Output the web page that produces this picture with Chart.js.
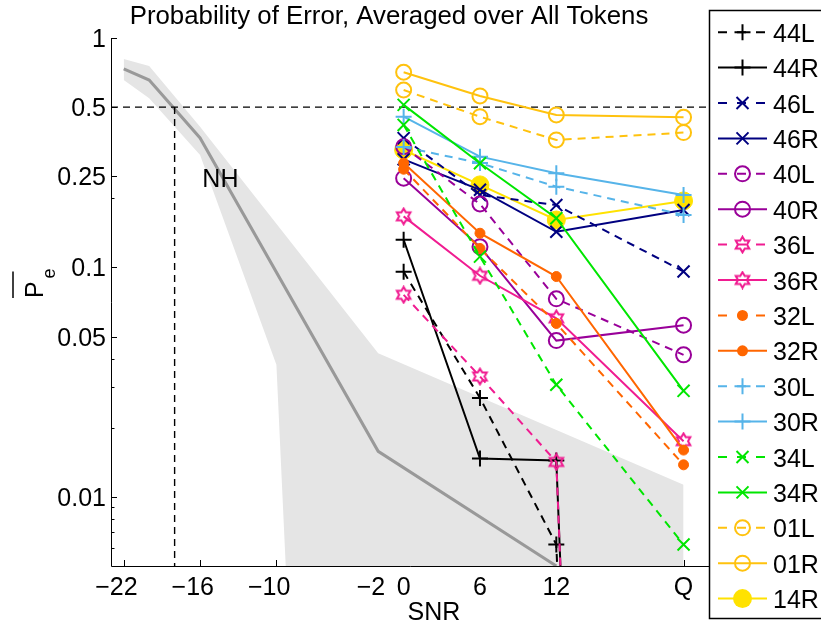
<!DOCTYPE html>
<html>
<head>
<meta charset="utf-8">
<title>Probability of Error</title>
<script src="https://cdn.jsdelivr.net/npm/chart.js@4.4.1/dist/chart.umd.min.js"></script>
<style>
  html, body { margin: 0; padding: 0; background: #fff; }
  canvas { display: block; }
</style>
</head>
<body>
<canvas id="pe" width="821" height="626"></canvas>
<script>
// ------------- Data -------------
const snrPts = [0, 6, 12, 22];               // last column is the quiet condition
const xTicks = [-22, -16, -10, -2, 0, 6, 12, 22];
const xTickText = ['−22', '−16', '−10', '−2', '0', '6', '12', 'Q'];
const yTicks = [1, 0.5, 0.25, 0.1, 0.05, 0.01];
const yTickText = ['1', '0.5', '0.25', '0.1', '0.05', '0.01'];
const yMinorTicks = [0.2, 0.04, 0.03, 0.02, 0.009, 0.008, 0.007, 0.006];

// normal hearing group: mean curve and its spread
const nhSnr    = [-22, -20, -16, -2, 12];
const nhMean   = [0.733, 0.656, 0.367, 0.0158, 0.005];
const nhBandSnr = [-22, -20, -16, -10, -2, 22];
const nhBandHi  = [0.81, 0.755, 0.41, 0.155, 0.0423, 0.0113];
const nhBandLo  = [0.656, 0.546, 0.309, 0.0377, 1e-11, 1e-11];
const chanceLevel = 0.5;
const nhThreshold = -18;

// listeners, per ear (0, 6, 12 dB SNR, quiet)
const pe44L = [0.0957, 0.027, 0.0062, 1e-16];
const pe44R = [0.132, 0.0147, 0.0144, 1e-16];
const pe46L = [0.366, 0.207, 0.187, 0.096];
const pe46R = [0.296, 0.218, 0.143, 0.178];
const pe40L = [0.336, 0.189, 0.073, 0.0416];
const pe40R = [0.245, 0.123, 0.048, 0.056];
const pe36L = [0.076, 0.0335, 0.0142, 1e-16];
const pe36R = [0.167, 0.092, 0.060, 0.0175];
const pe32L = [0.268, 0.121, 0.057, 0.0138];
const pe32R = [0.285, 0.141, 0.0913, 0.016];
const pe30L = [0.335, 0.285, 0.225, 0.1695];
const pe30R = [0.454, 0.304, 0.2575, 0.207];
const pe34L = [0.418, 0.1115, 0.0308, 0.0062];
const pe34R = [0.511, 0.2846, 0.164, 0.029];
const pe01L = [0.5935, 0.454, 0.3595, 0.387];
const pe01R = [0.709, 0.559, 0.462, 0.451];
const pe14R = [0.325, 0.229, 0.161, 0.195];

const seriesNames = ['44L', '44R', '46L', '46R', '40L', '40R', '36L', '36R',
                     '32L', '32R', '30L', '30R', '34L', '34R', '01L', '01R', '14R'];
const seriesValues = [pe44L, pe44R, pe46L, pe46R, pe40L, pe40R, pe36L, pe36R,
                      pe32L, pe32R, pe30L, pe30R, pe34L, pe34R, pe01L, pe01R, pe14R];

// ------------- Styles -------------
const FONT = '"Liberation Sans", Arial, Helvetica, sans-serif';
const look = {
  '44': { color: '#000000', marker: 'plus' },
  '46': { color: '#000080', marker: 'x' },
  '40': { color: '#990099', marker: 'ring' },
  '36': { color: '#f01c91', marker: 'hex' },
  '32': { color: '#ff6600', marker: 'dot' },
  '30': { color: '#56b4e9', marker: 'plus' },
  '34': { color: '#00e600', marker: 'x' },
  '01': { color: '#ffc20e', marker: 'ring' },
  '14': { color: '#ffe200', marker: 'bigdot' }
};

function hexagram(color) {
  const cv = document.createElement('canvas');
  cv.width = cv.height = 19;
  const c = cv.getContext('2d');
  const R = 7.8, r = R / Math.sqrt(3);
  c.beginPath();
  for (let k = 0; k < 12; k++) {
    const a = -Math.PI / 2 + k * Math.PI / 6;
    const d = k % 2 ? r : R;
    const px = 9.5 + d * Math.cos(a), py = 9.5 + d * Math.sin(a);
    if (k) c.lineTo(px, py); else c.moveTo(px, py);
  }
  c.closePath();
  c.strokeStyle = color;
  c.lineWidth = 2;
  c.stroke();
  return cv;
}
const hexImg = hexagram(look['36'].color);

function pointOpts(kind, color) {
  switch (kind) {
    case 'plus':   return { pointStyle: 'cross', pointRadius: 8, pointBorderWidth: 2, pointBorderColor: color };
    case 'x':      return { pointStyle: 'crossRot', pointRadius: 8.5, pointBorderWidth: 2, pointBorderColor: color };
    case 'ring':   return { pointStyle: 'circle', pointRadius: 7.5, pointBorderWidth: 2, pointBorderColor: color, pointBackgroundColor: 'rgba(0,0,0,0)' };
    case 'dot':    return { pointStyle: 'circle', pointRadius: 5, pointBorderWidth: 1, pointBorderColor: color, pointBackgroundColor: color };
    case 'bigdot': return { pointStyle: 'circle', pointRadius: 9, pointBorderWidth: 1, pointBorderColor: color, pointBackgroundColor: color };
    case 'hex':    return { pointStyle: hexImg };
  }
}

// same markers, drawn by hand for the legend
function drawMarker(c, kind, color, x, y) {
  c.save();
  c.setLineDash([]);
  c.strokeStyle = color;
  c.fillStyle = color;
  c.lineWidth = 2;
  c.beginPath();
  if (kind === 'plus') {
    c.moveTo(x - 8, y); c.lineTo(x + 8, y);
    c.moveTo(x, y - 8); c.lineTo(x, y + 8);
    c.stroke();
  } else if (kind === 'x') {
    const d = 6;
    c.moveTo(x - d, y - d); c.lineTo(x + d, y + d);
    c.moveTo(x - d, y + d); c.lineTo(x + d, y - d);
    c.stroke();
  } else if (kind === 'ring') {
    c.arc(x, y, 7.5, 0, Math.PI * 2);
    c.stroke();
  } else if (kind === 'dot') {
    c.arc(x, y, 5.5, 0, Math.PI * 2);
    c.fill();
  } else if (kind === 'bigdot') {
    c.arc(x, y, 9.5, 0, Math.PI * 2);
    c.fill();
  } else if (kind === 'hex') {
    c.drawImage(hexImg, x - hexImg.width / 2, y - hexImg.height / 2);
  }
  c.restore();
}

const xy = (xs, ys) => xs.map((x, i) => ({ x, y: ys[i] }));

// ------------- Datasets -------------
const datasets = [
  { label: 'nhHi', data: xy(nhBandSnr, nhBandHi), borderColor: 'rgba(0,0,0,0)', borderWidth: 0,
    pointRadius: 0, fill: '+1', backgroundColor: '#e5e5e5', order: 100 },
  { label: 'nhLo', data: xy(nhBandSnr, nhBandLo), borderColor: 'rgba(0,0,0,0)', borderWidth: 0,
    pointRadius: 0, fill: false, order: 99 },
  { label: 'NH', data: xy(nhSnr, nhMean), borderColor: '#999999', borderWidth: 3,
    pointRadius: 0, fill: false, order: 98 },
  { label: 'chance', data: [{ x: -23, y: chanceLevel }, { x: 24, y: chanceLevel }],
    borderColor: '#000', borderWidth: 1.4, borderDash: [7, 5], pointRadius: 0, order: 97 },
  { label: 'nhThr', data: [{ x: nhThreshold, y: chanceLevel }, { x: nhThreshold, y: 0.005 }],
    borderColor: '#000', borderWidth: 1.4, borderDash: [7, 5], pointRadius: 0, order: 96 }
];

seriesNames.forEach((name, i) => {
  const st = look[name.slice(0, 2)];
  const left = name.endsWith('L');
  datasets.push(Object.assign({
    label: name,
    data: xy(snrPts, seriesValues[i]),
    borderColor: st.color,
    borderWidth: 2,
    borderDash: left ? [8, 6] : [],
    fill: false,
    tension: 0,
    order: name === '14R' ? 60 : 50 - i
  }, pointOpts(st.marker, st.color)));
});

// ------------- Axes, labels, legend -------------
const decor = {
  id: 'decor',
  beforeDatasetsDraw(chart) {
    // tick marks sit underneath the data
    const c = chart.ctx, a = chart.chartArea;
    const xs = chart.scales.x, ys = chart.scales.y;
    c.save();
    c.strokeStyle = '#000';
    c.lineWidth = 1;
    c.beginPath();
    yTicks.forEach(v => { const y = Math.round(ys.getPixelForValue(v)) + 0.5; c.moveTo(a.left, y); c.lineTo(a.left + 6, y); });
    yMinorTicks.forEach(v => { const y = Math.round(ys.getPixelForValue(v)) + 0.5; c.moveTo(a.left, y); c.lineTo(a.left + 3.5, y); });
    xTicks.forEach(v => { const x = Math.round(xs.getPixelForValue(v)) + 0.5; c.moveTo(x, a.bottom); c.lineTo(x, a.bottom - 6); });
    c.stroke();
    c.restore();
  },
  afterDatasetsDraw(chart) {
    const c = chart.ctx, a = chart.chartArea;
    const xs = chart.scales.x, ys = chart.scales.y;
    c.save();
    c.strokeStyle = '#000';
    c.lineWidth = 1;
    c.beginPath();
    c.moveTo(a.left + 0.5, a.top);
    c.lineTo(a.left + 0.5, a.bottom + 0.5);
    c.lineTo(a.right, a.bottom + 0.5);
    c.stroke();

    c.fillStyle = '#000';
    c.font = '25px ' + FONT;
    c.textBaseline = 'alphabetic';

    // y tick labels
    c.textAlign = 'right';
    yTicks.forEach((v, i) => c.fillText(yTickText[i], a.left - 5, ys.getPixelForValue(v) + 9));

    // x tick labels: the digits are centred on the tick, the minus hangs left
    xTicks.forEach((v, i) => {
      const t = xTickText[i];
      const body = t.replace('−', '');
      const w = c.measureText(body).width;
      c.fillText(t, xs.getPixelForValue(v) + w / 2, a.bottom + 29);
    });

    // axis titles
    c.textAlign = 'center';
    c.fillText('SNR', 434, 620);
    c.fillText('NH', xs.getPixelForValue(-14.4), ys.getPixelForValue(0.245) + 9);
    c.font = '25.8px ' + FONT;
    c.fillText('Probability of Error, Averaged over All Tokens', 389, 23.5);

    // P_e with an overbar, rotated
    c.font = '25px ' + FONT;
    c.translate(43, 298);
    c.rotate(-Math.PI / 2);
    c.textAlign = 'left';
    c.fillText('P', 0, 0);
    c.font = '18px ' + FONT;
    c.fillText('e', 19.5, 12);
    c.lineWidth = 1.5;
    c.beginPath();
    c.moveTo(0, -30);
    c.lineTo(26.5, -30);
    c.stroke();
    c.restore();
  },
  afterDraw(chart) {
    const c = chart.ctx;
    c.save();
    c.fillStyle = '#fff';
    c.fillRect(709, 10, 140, 608);
    c.strokeStyle = '#000';
    c.lineWidth = 1.5;
    c.strokeRect(709.5, 10.5, 140, 608);

    c.font = '25px ' + FONT;
    c.textAlign = 'left';
    c.textBaseline = 'alphabetic';
    seriesNames.forEach((name, i) => {
      const st = look[name.slice(0, 2)];
      const y = 32.2 + i * 35.4;
      c.strokeStyle = st.color;
      c.lineWidth = 2;
      c.setLineDash(name.endsWith('L') ? [9, 10] : []);
      c.beginPath();
      c.moveTo(718, y);
      c.lineTo(767, y);
      c.stroke();
      drawMarker(c, st.marker, st.color, 742.5, y);
      c.fillStyle = '#000';
      c.fillText(name, 773, y + 9.5);
    });
    c.restore();
  }
};

new Chart(document.getElementById('pe'), {
  type: 'line',
  data: { datasets },
  options: {
    responsive: false,
    animation: false,
    devicePixelRatio: 1,
    layout: { padding: { left: 111, top: 38, right: 112, bottom: 60 } },
    plugins: { legend: { display: false }, tooltip: { enabled: false }, title: { display: false } },
    scales: {
      x: { type: 'linear', min: -23, max: 24, display: false },
      y: { type: 'logarithmic', min: 0.005, max: 1, display: false }
    }
  },
  plugins: [decor]
});
</script>
</body>
</html>
